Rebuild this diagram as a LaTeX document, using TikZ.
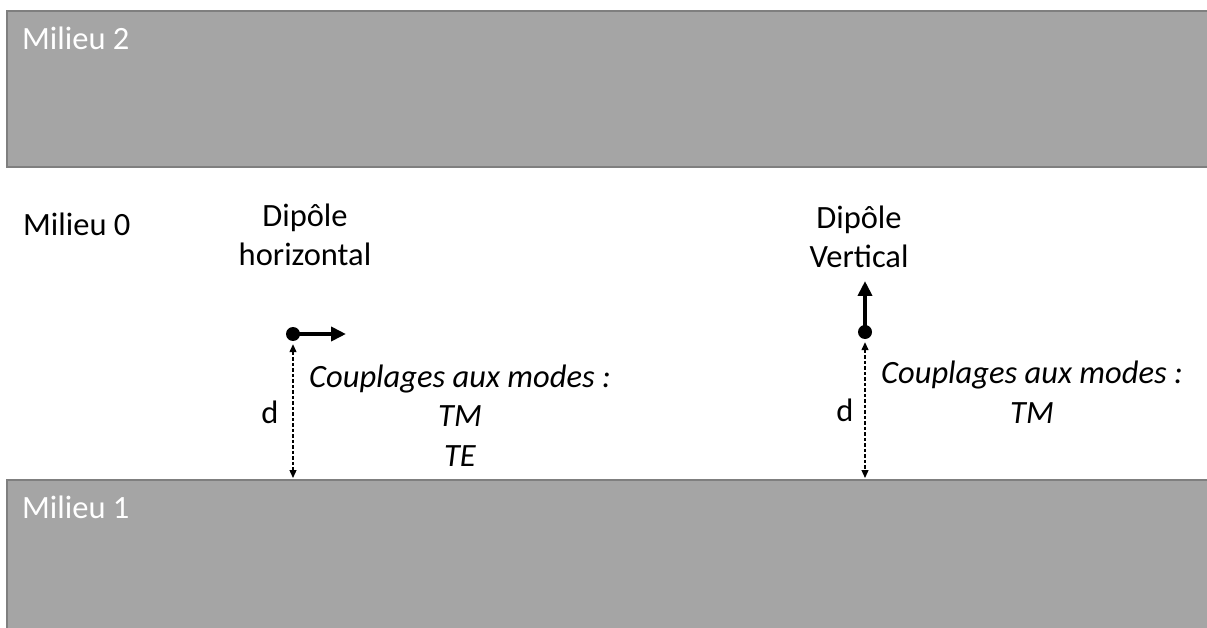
\documentclass[tikz,border=0pt]{standalone}
\usepackage{fontspec}
\setmainfont{Carlito}
\usetikzlibrary{arrows.meta}
\definecolor{milieu}{HTML}{A5A5A5}
\definecolor{bordmilieu}{HTML}{7F7F7F}
\tikzset{
  couche/.style={fill=milieu, draw=bordmilieu, line width=2pt},
  etiq/.style={font=\fontsize{32.5}{39.5}\selectfont, inner sep=0pt, anchor=base, align=center},
  point/.style={circle, fill=black, inner sep=0pt, minimum size=14pt},
  dipole/.style={line width=4pt, -{Triangle[length=15pt,width=14pt]}},
  cote/.style={line width=1.3pt, dash pattern=on 3.5pt off 2pt,
    {Triangle[length=8pt,width=7pt]}-{Triangle[length=8pt,width=7pt]}},
}

\begin{document}
\begin{tikzpicture}[x=1pt,y=-1pt]
\useasboundingbox (0,0) rectangle (1207,628);
\fill[white] (0,0) rectangle (1207,628);

\draw[couche] (7,11) rectangle (1220,167);
\draw[couche] (7,480) rectangle (1220,640);

\node[etiq, anchor=base west, text=white] (m2) at (22,50) {Milieu 2};
\node[etiq, anchor=base west, text=white] (m1) at (22,518) {Milieu 1};
\node[etiq, anchor=base west] (m0) at (23,236) {Milieu 0};

% base = derniere ligne
\node[etiq] (th) at (305,266) {Dipôle\\horizontal};
\node[etiq] (tv) at (859,268) {Dipôle\\Vertical};

\node[etiq, font=\fontsize{32.5}{39.5}\selectfont\itshape] (ch) at (460,466) {Couplages aux modes :\\TM\\TE};
\node[etiq, font=\fontsize{32.5}{39.5}\selectfont\itshape] (cv) at (1032,423) {Couplages aux modes :\\TM};

\node[etiq] (dh) at (270,423) {d};
\node[etiq] (dv) at (845,421) {d};

\node[point] (ph) at (293,334) {};
\coordinate (ph-bout) at (346,334);
\coordinate (ph-sol) at (293,478);
\draw[dipole] (ph.center) -- (ph-bout);
\draw[cote, shorten <=3pt] (ph) -- (ph-sol);

\node[point] (pv) at (865,332) {};
\coordinate (pv-bout) at (865,281);
\coordinate (pv-sol) at (865,478);
\draw[dipole] (pv.center) -- (pv-bout);
\draw[cote, shorten <=3pt] (pv) -- (pv-sol);
\end{tikzpicture}
\end{document}
